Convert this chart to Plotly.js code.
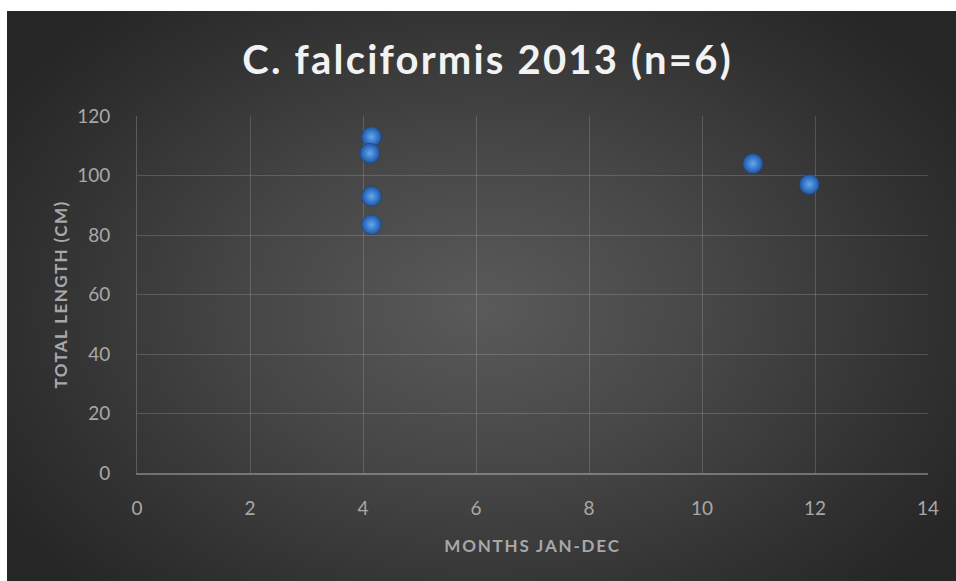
<!DOCTYPE html>
<html>
<head>
<meta charset="utf-8">
<script src="https://cdn.plot.ly/plotly-3.0.1.min.js"></script>
<style>
  html, body { margin:0; padding:0; background:#ffffff; width:956px; height:581px; overflow:hidden; }
  #bg { position:absolute; left:7px; top:11px; width:949px; height:570px;
        background: radial-gradient(ellipse 60% 70% at 50% 52%, #5a5a5a 0%, #474747 40%, #303030 80%, #262626 100%); }
  #chart { position:absolute; left:0; top:0; width:956px; height:581px; }
  #chart .gtitle { letter-spacing: 2.2px; }
  #chart .xtitle { letter-spacing: 1.8px; }
  #chart .ytitle { letter-spacing: 1.4px; }
</style>
</head>
<body>
<div id="bg"></div>
<div id="chart"></div>
<script>
const months = [4.15, 4.12, 4.15, 4.15, 10.9, 11.9];
const lengths = [113, 107.5, 93, 83.5, 104, 97];
const xTicks = [0, 2, 4, 6, 8, 10, 12, 14];
const yTicks = [0, 20, 40, 60, 80, 100, 120];
const chartTitle = 'C. falciformis 2013 (n=6)';
const xTitle = 'MONTHS JAN-DEC';
const yTitle = 'TOTAL LENGTH (CM)';

const trace = {
  x: months, y: lengths, type: 'scatter', mode: 'markers',
  marker: {
    size: 20, color: '#1c56a6',
    gradient: { type: 'radial', color: '#62a8f2' },
    line: { width: 0.5, color: '#1a3f73' }
  },
  hoverinfo: 'x+y'
};

const fam = 'Lato, "Open Sans", sans-serif';
const tickFont = { family: fam, size: 19, color: '#a8a8a8' };
const layout = {
  width: 956, height: 581,
  paper_bgcolor: 'rgba(0,0,0,0)', plot_bgcolor: 'rgba(0,0,0,0)',
  margin: { l: 137, r: 28, t: 116, b: 108, pad: 0 },
  showlegend: false,
  title: {
    text: '<b>' + chartTitle + '</b>',
    font: { family: fam, size: 40, color: '#f2f2f2' },
    x: 0.51, xanchor: 'center', y: 0.897, yanchor: 'middle',
    xref: 'container', yref: 'container'
  },
  xaxis: {
    range: [0, 14], tickvals: xTicks, ticktext: xTicks.map(String),
    showgrid: true, gridcolor: 'rgba(255,255,255,0.16)', gridwidth: 1,
    zeroline: false, showline: true, linecolor: 'rgba(255,255,255,0.3)', linewidth: 1.5,
    ticks: '', tickfont: tickFont, ticklabelstandoff: 17,
    title: { text: '<b>' + xTitle + '</b>', font: { family: fam, size: 17, color: '#a8a8a8' }, standoff: 23 },
    fixedrange: true
  },
  yaxis: {
    range: [0, 120], tickvals: yTicks, ticktext: yTicks.map(String),
    showgrid: true, gridcolor: 'rgba(255,255,255,0.16)', gridwidth: 1,
    zeroline: false, showline: true, linecolor: 'rgba(255,255,255,0.2)', linewidth: 1,
    ticks: '', tickfont: tickFont, ticklabelstandoff: 22,
    title: { text: '<b>' + yTitle + '</b>', font: { family: fam, size: 17, color: '#a8a8a8' }, standoff: 5 },
    fixedrange: true
  }
};

Plotly.newPlot('chart', [trace], layout, { displayModeBar: false });
</script>
</body>
</html>
